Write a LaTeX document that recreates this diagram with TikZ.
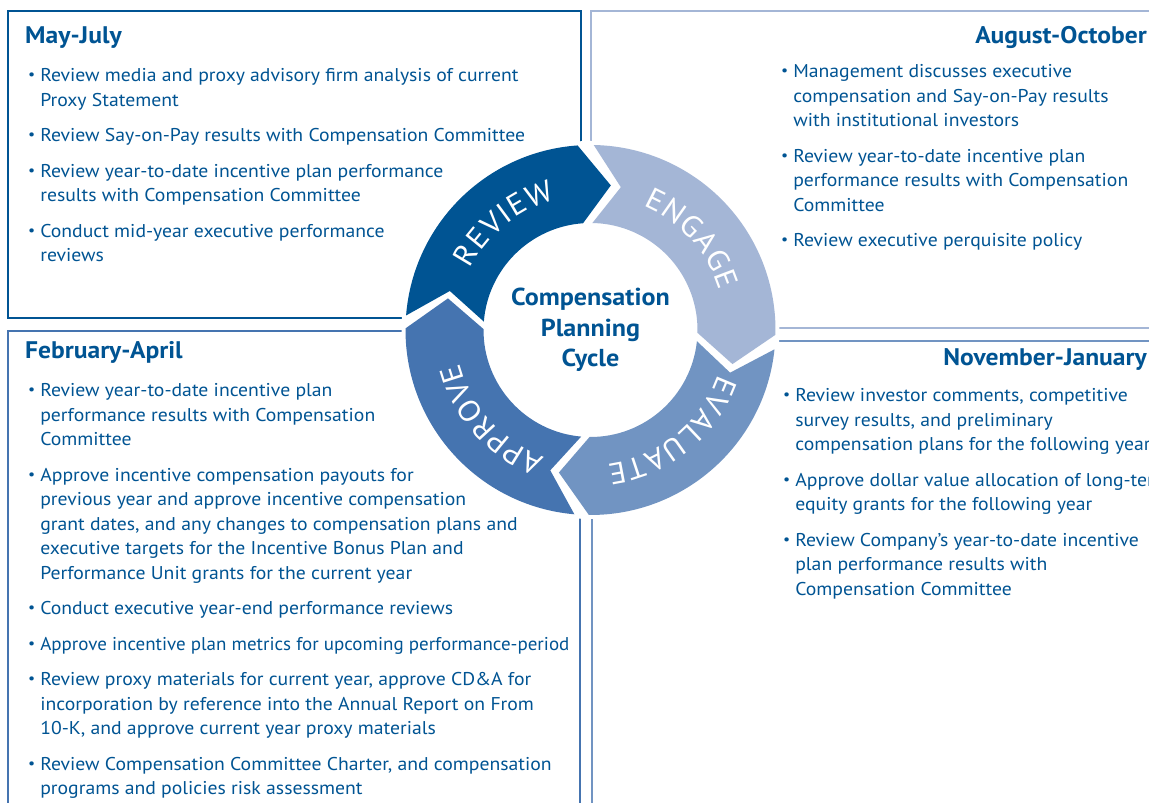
\documentclass[tikz,border=0pt]{standalone}
\usepackage{fontspec}
\setmainfont{PT Sans}[FakeStretch=1.065]
\usetikzlibrary{decorations.text}

\definecolor{navy}{RGB}{0,84,147}
\definecolor{engagec}{RGB}{164,182,214}
\definecolor{evaluatec}{RGB}{113,148,194}
\definecolor{approvec}{RGB}{69,116,176}

\newcommand\dotmark{\raisebox{0.12em}{\scalebox{0.8}{\textbullet}}}
\newcommand\labelfont{\fontsize{30}{30}\selectfont}

\begin{document}
\begin{tikzpicture}[x=1pt,y=1pt,
	frame/.style={line width=2.2pt},
	title/.style={font=\fontsize{24}{27}\selectfont\bfseries, text=navy, inner sep=0pt},
	list/.style={font=\fontsize{18.5}{24.5}\selectfont, text=navy, inner sep=0pt, anchor=base west},
	hub/.style={font=\fontsize{24.5}{30.5}\selectfont\bfseries, text=navy, align=center, inner sep=0pt}]

	\clip (0,0) rectangle (1149,803);
	\fill[white] (0,0) rectangle (1149,803);

	% the four quarters
	\draw[frame, navy] (8,792) rectangle (581,485);
	\draw[frame, engagec] (591,792) rectangle (1170,475);
	\draw[frame, evaluatec] (592,462) rectangle (1170,-20);
	\draw[frame, approvec] (8,472) rectangle (580,-20);

	\node[title, anchor=base west] (maytitle) at (25,759) {May-July};
	\node[title, anchor=base east] (augtitle) at (1147,759) {August-October};
	\node[title, anchor=base east] (novtitle) at (1147,437) {November-January};
	\node[title, anchor=base west] (febtitle) at (25,444) {February-April};

	\node[list] (maylist) at (28,721) {
		\begin{tabular}[t]{@{}l@{\hspace{5pt}}l@{}}
			\dotmark & Review media and proxy advisory firm analysis of current\\
			& Proxy Statement\\[11pt]
			\dotmark & Review Say-on-Pay results with Compensation Committee\\[11pt]
			\dotmark & Review year-to-date incentive plan performance\\
			& results with Compensation Committee\\[11pt]
			\dotmark & Conduct mid-year executive performance\\
			& reviews
		\end{tabular}
	};
	\node[list] (auglist) at (781,725) {
		\begin{tabular}[t]{@{}l@{\hspace{5pt}}l@{}}
			\dotmark & Management discusses executive\\
			& compensation and Say-on-Pay results\\
			& with institutional investors\\[11pt]
			\dotmark & Review year-to-date incentive plan\\
			& performance results with Compensation\\
			& Committee\\[11pt]
			\dotmark & Review executive perquisite policy
		\end{tabular}
	};
	\node[list] (novlist) at (783,401) {
		\begin{tabular}[t]{@{}l@{\hspace{5pt}}l@{}}
			\dotmark & Review investor comments, competitive\\
			& survey results, and preliminary\\
			& compensation plans for the following year\\[11pt]
			\dotmark & Approve dollar value allocation of long-term\\
			& equity grants for the following year\\[11pt]
			\dotmark & Review Company's year-to-date incentive\\
			& plan performance results with\\
			& Compensation Committee
		\end{tabular}
	};
	\node[list] (feblist) at (28,406) {
		\begin{tabular}[t]{@{}l@{\hspace{5pt}}l@{}}
			\dotmark & Review year-to-date incentive plan\\
			& performance results with Compensation\\
			& Committee\\[11pt]
			\dotmark & Approve incentive compensation payouts for\\
			& previous year and approve incentive compensation\\
			& grant dates, and any changes to compensation plans and\\
			& executive targets for the Incentive Bonus Plan and\\
			& Performance Unit grants for the current year\\[11pt]
			\dotmark & Conduct executive year-end performance reviews\\[11pt]
			\dotmark & \scalebox{0.964}[1]{Approve incentive plan metrics for upcoming performance-period}\\[11pt]
			\dotmark & Review proxy materials for current year, approve CD\&A for\\
			& incorporation by reference into the Annual Report on From\\
			& 10-K, and approve current year proxy materials\\[11pt]
			\dotmark & Review Compensation Committee Charter, and compensation\\
			& programs and policies risk assessment
		\end{tabular}
	};

	% the cycle
	\begin{scope}[shift={(590.5,473)}]
		\fill[white] (0,0) circle[radius=189];
		\foreach \tl/\hd/\col in {175.5/94/navy, 89/-1.5/engagec, -6/-90.5/evaluatec, -95/-180.5/approvec}
			\fill[\col] (\tl:185) arc[start angle=\tl, end angle=\hd, radius=185]
				-- ({\hd-12}:146) -- (\hd:107) arc[start angle=\hd, end angle=\tl, radius=107]
				-- ({\tl-11}:146) -- cycle;
		\foreach \word/\from/\to in {REVIEW/153/105, ENGAGE/67/17, EVALUATE/-19/-83, APPROVE/-110/-166}
			\path[decorate, decoration={text along path, text/.expanded={|\noexpand\labelfont|\word},
				text color=white, text align={fit to path}}]
				(\from:135) arc[start angle=\from, end angle=\to, radius=135];
		\node[hub] (cycle) at (0,0) {Compensation\\Planning\\Cycle};
	\end{scope}
\end{tikzpicture}
\end{document}
